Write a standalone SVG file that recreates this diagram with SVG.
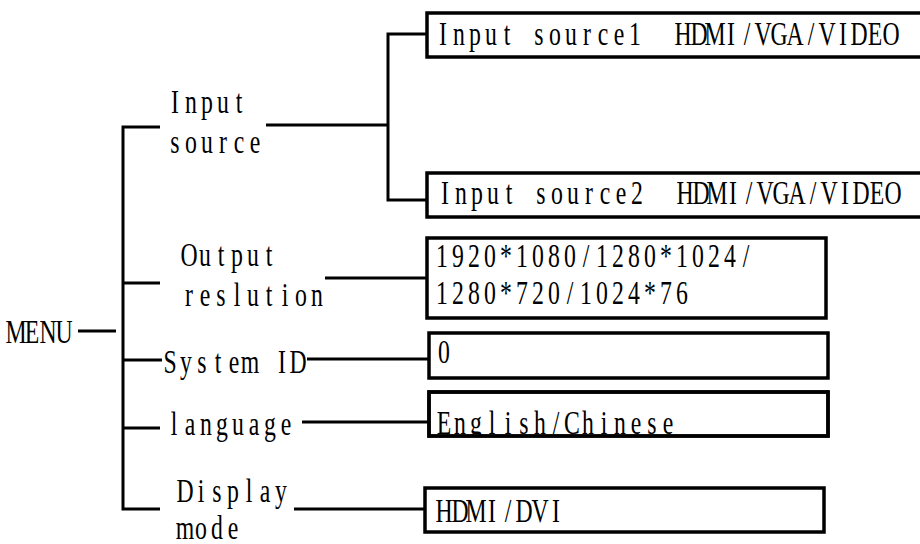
<svg xmlns="http://www.w3.org/2000/svg" width="920" height="544" viewBox="0 0 920 544">
<style>
  text { font-family: "Liberation Serif", "Times New Roman", serif; font-size: 33px; fill: #000; text-anchor: middle; }
  .ln { stroke: #000; stroke-width: 3; fill: none; }
  .box { stroke: #000; stroke-width: 3.5; fill: #fff; }
</style>
<defs>
  <clipPath id="clip5"><rect x="429" y="392" width="399" height="44"/></clipPath>
</defs>
<rect width="920" height="544" fill="#fff"/>
<g id="connectors">
  <line class="ln" x1="78" y1="331" x2="116" y2="331"/>
  <polyline class="ln" points="160,127 123,127 123,509 160,509" stroke-width="3.5"/>
  <line class="ln" x1="123" y1="283" x2="160" y2="283"/>
  <line class="ln" x1="123" y1="360" x2="162" y2="360"/>
  <line class="ln" x1="123" y1="428" x2="160" y2="428"/>
  <line class="ln" x1="266" y1="125" x2="388" y2="125"/>
  <polyline class="ln" points="427,34 388,34 388,200 427,200"/>
  <line class="ln" x1="325" y1="278" x2="427" y2="278"/>
  <line class="ln" x1="307" y1="359" x2="429" y2="359"/>
  <line class="ln" x1="302" y1="422" x2="429" y2="422"/>
  <line class="ln" x1="294" y1="509" x2="425" y2="509"/>
</g>
<g id="menu">
  <text transform="translate(8,0) scale(0.72,1)" y="343" x="11.11 33.33 55.56 77.78">MENU</text>
</g>
<g id="input-source">
  <text transform="translate(167,0) scale(0.72,1)" y="113" x="11.11 33.33 55.56 77.78 100">Input</text>
  <text transform="translate(167,0) scale(0.72,1)" y="153" x="11.11 33.33 55.56 77.78 100 122.22">source</text>
</g>
<g id="output-reslution">
  <text transform="translate(181,0) scale(0.72,1)" y="266" x="11.11 33.33 55.56 77.78 100 122.22">Output</text>
  <text transform="translate(181,0) scale(0.72,1)" y="306" x="11.11 33.33 55.56 77.78 100 122.22 144.44 166.67 188.89">reslution</text>
</g>
<g id="system-id">
  <text transform="translate(162,0) scale(0.72,1)" y="373" x="11.11 33.33 55.56 77.78 100 122.22 144.44 166.67 188.89" xml:space="preserve">System ID</text>
</g>
<g id="language">
  <text transform="translate(166,0) scale(0.72,1)" y="435" x="11.11 33.33 55.56 77.78 100 122.22 144.44 166.67">language</text>
</g>
<g id="display-mode">
  <text transform="translate(177,0) scale(0.72,1)" y="502" x="11.11 33.33 55.56 77.78 100 122.22 144.44">Display</text>
  <text transform="translate(177,0) scale(0.72,1)" y="539" x="11.11 33.33 55.56 77.78">mode</text>
</g>
<g id="input-source1">
  <rect class="box" x="427" y="13" width="520" height="44"/>
  <text transform="translate(435,0) scale(0.72,1)" y="45" xml:space="preserve" x="11.11 33.33 55.56 77.78 100 122.22 144.44 166.67 188.89 211.11 233.33 255.56 277.78 300 322.22 344.44 366.67 388.89 411.11 433.33 455.56 477.78 500 522.22 544.44 566.67 588.89 611.11 633.33">Input source1  HDMI/VGA/VIDEO</text>
</g>
<g id="input-source2">
  <rect class="box" x="427" y="173" width="520" height="44"/>
  <text transform="translate(437,0) scale(0.72,1)" y="204" xml:space="preserve" x="11.11 33.33 55.56 77.78 100 122.22 144.44 166.67 188.89 211.11 233.33 255.56 277.78 300 322.22 344.44 366.67 388.89 411.11 433.33 455.56 477.78 500 522.22 544.44 566.67 588.89 611.11 633.33">Input source2  HDMI/VGA/VIDEO</text>
</g>
<g id="resolution">
  <rect class="box" x="427" y="238" width="399" height="80"/>
  <text transform="translate(434,0) scale(0.72,1)" y="267" x="11.11 33.33 55.56 77.78 100 122.22 144.44 166.67 188.89 211.11 233.33 255.56 277.78 300 322.22 344.44 366.67 388.89 411.11 433.33">1920*1080/1280*1024/</text>
  <text transform="translate(434,0) scale(0.72,1)" y="304" x="11.11 33.33 55.56 77.78 100 122.22 144.44 166.67 188.89 211.11 233.33 255.56 277.78 300 322.22 344.44">1280*720/1024*76</text>
</g>
<g id="system-id-value">
  <rect class="box" x="429" y="333" width="399" height="45"/>
  <text transform="translate(436,0) scale(0.72,1)" y="363" x="11.11">0</text>
</g>
<g id="language-value">
  <rect class="box" x="429" y="392" width="399" height="44"/>
  <g clip-path="url(#clip5)">
    <text transform="translate(436,0) scale(0.72,1)" y="434" x="11.11 33.33 55.56 77.78 100 122.22 144.44 166.67 188.89 211.11 233.33 255.56 277.78 300 322.22">English/Chinese</text>
  </g>
  <rect x="429" y="392" width="399" height="44" fill="none" stroke="#000" stroke-width="3.5"/>
</g>
<g id="display-mode-value">
  <rect class="box" x="425" y="488" width="399" height="44"/>
  <text transform="translate(436,0) scale(0.72,1)" y="522" x="11.11 33.33 55.56 77.78 100 122.22 144.44 166.67">HDMI/DVI</text>
</g>
</svg>
